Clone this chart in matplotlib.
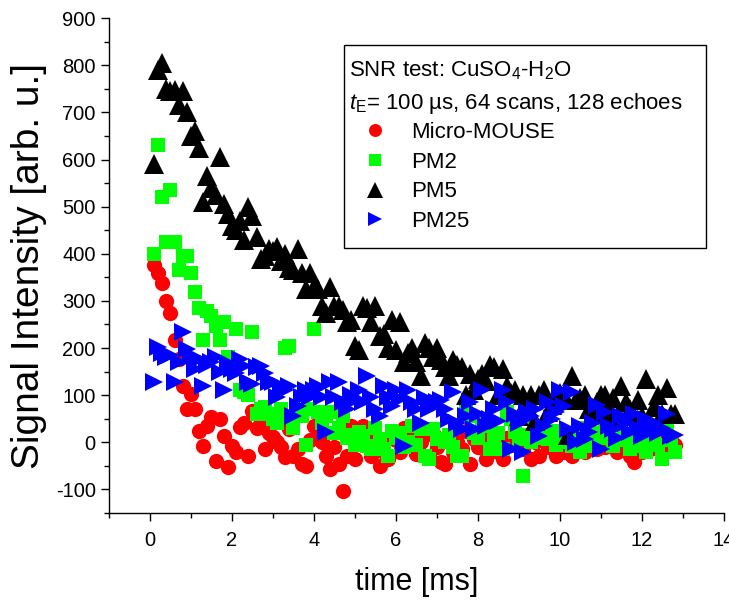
"""SNR test: CPMG echo trains of CuSO4-H2O measured with four sensors."""

import matplotlib
matplotlib.use("Agg")
import matplotlib.pyplot as plt
import numpy as np
from matplotlib.patches import Rectangle
from matplotlib.ticker import MultipleLocator

plt.rcParams["font.family"] = ["Liberation Sans", "DejaVu Sans"]
plt.rcParams["mathtext.fontset"] = "custom"
plt.rcParams["mathtext.rm"] = "Liberation Sans"
plt.rcParams["mathtext.it"] = "Liberation Sans:italic"
plt.rcParams["axes.unicode_minus"] = False

# echo times: tE = 100 us, 128 echoes
time_ms = 0.1 * np.arange(1, 129)

micro_mouse = [
    377, 360, 339, 300, 275, 218, 176, 119, 70, 102,
    70, 23, -8, 35, 53, -40, 49, 13, -53, -8,
    -21, 32, 40, -30, 66, 30, 45, -15, 20, 11,
    0, -10, -32, 28, -30, -15, -47, -51, 5, 34,
    13, 0, -30, -57, -10, -47, -104, -30, 34, -36,
    20, 34, 0, -30, 15, -51, -20, -36, 10, 5,
    -20, 30, -5, 10, -25, 0, 15, -30, 20, -10,
    -42, -47, 10, -20, 0, -15, 25, -47, 6, -10,
    15, -36, 0, 20, -20, -36, 10, -5, 20, 0,
    -15, 10, -36, 0, -30, 15, -10, 20, -30, 5,
    -20, 10, -30, -5, 15, -21, 10, 0, -15, 20,
    -10, 15, 0, -20, -5, 10, -30, -42, 5, -21,
    0, -15, 10, -8, 20, -10, 5, -5,
]

pm2 = [
    400, 630, 520, 425, 535, 425, 365, 395, 395, 360,
    318, 285, 218, 278, 267, 246, 218, 256, 182, 160,
    240, 112, 106, 100, 235, 60, 70, 75, 59, 50,
    40, 70, 200, 205, 30, 60, 55, -5, 70, 240,
    64, 40, 55, 64, 20, 30, 55, 10, 15, -5,
    21, 13, -8, -15, 30, 6, -15, -30, 25, 10,
    20, -10, 0, 35, -5, 28, -30, -36, 28, 6,
    6, 0, 15, -10, -30, -30, 76, 55, 20, 10,
    49, 34, -15, 5, 20, -15, 64, 49, 21, 6,
    -72, 15, 0, 30, 10, 21, 6, 25, -5, 21,
    0, 15, -8, 10, -21, 30, 0, -8, 20, 10,
    42, 13, -8, 25, 28, 5, -15, 15, 0, -8,
    -21, 10, 20, -5, -36, 34, 5, -20,
]

pm5 = [
    590, 790, 805, 750, 745, 748, 715, 745, 700, 650,
    660, 625, 510, 565, 540, 525, 605, 505, 485, 460,
    450, 470, 430, 500, 480, 435, 390, 395, 410, 405,
    415, 385, 400, 370, 365, 410, 360, 325, 360, 330,
    325, 290, 275, 330, 290, 290, 280, 255, 260, 205,
    195, 290, 285, 255, 290, 225, 230, 200, 260, 195,
    255, 170, 190, 200, 170, 140, 210, 200, 180, 200,
    175, 160, 140, 175, 165, 160, 100, 145, 110, 135,
    145, 130, 165, 160, 100, 155, 120, 105, 110, 55,
    100, 75, 100, 45, 100, 110, 65, 80, 90, 105,
    100, 15, 140, 90, 95, 100, 70, 60, 85, 100,
    100, 65, 95, 55, 120, 85, 70, 55, 90, 55,
    135, 40, 75, 100, 60, 115, 60, 60,
]

pm25 = [
    127, 203, 190, 182, 185, 127, 170, 233, 197, 182,
    155, 176, 119, 165, 170, 180, 150, 112, 169, 155,
    148, 176, 161, 127, 123, 160, 161, 148, 127, 127,
    97, 119, 112, 119, 55, 76, 97, 112, 97, 112,
    119, 97, 21, 127, 97, 127, 85, 70, 100, 90,
    110, 85, 140, 97, 70, 55, 119, 97, 76, 112,
    91, -8, 112, 85, 70, 42, 95, 70, 80, 85,
    90, 70, 49, 106, 42, 28, 55, 85, 28, 60,
    112, 34, 50, 70, 45, 112, 85, -15, 60, 40,
    -21, 64, 55, 70, 13, 34, 85, 49, 64, 112,
    76, 28, 106, 0, 34, 6, 21, 40, 80, -15,
    64, 34, 28, 10, 55, 42, 21, 60, 30, 13,
    50, 25, 40, 20, 30, 60, 13, 15,
]

fig = plt.figure(figsize=(7.29, 6.06), dpi=100)
ax = fig.add_axes([0.1495, 0.1535, 0.8436, 0.8165])

ax.plot(time_ms, micro_mouse, "o", color="#ff0000", ms=11, mew=0, label="Micro-MOUSE")
ax.plot(time_ms, pm2, "s", color="#00ff00", ms=9.5, mew=0, label="PM2")
ax.plot(time_ms, pm5, "^", color="black", ms=14, mew=0, label="PM5")
ax.plot(time_ms, pm25, ">", color="#0000ff", ms=12.5, mew=0, label="PM25")

ax.set_xlim(-1, 14)
ax.set_ylim(-150, 900)
ax.xaxis.set_major_locator(MultipleLocator(2))
ax.xaxis.set_minor_locator(MultipleLocator(1))
ax.yaxis.set_major_locator(MultipleLocator(100))
ax.yaxis.set_minor_locator(MultipleLocator(50))
ax.tick_params(which="major", direction="out", length=6, width=1.0, labelsize=14.5)
ax.tick_params(axis="x", which="major", pad=7)
ax.tick_params(which="minor", direction="out", length=3.5, width=1.0)
for side in ("top", "right"):
    ax.spines[side].set_visible(False)
for side in ("left", "bottom"):
    ax.spines[side].set_linewidth(1.0)

ax.set_xlabel("time [ms]", fontsize=22, labelpad=12)
ax.set_ylabel("Signal Intensity [arb. u.]", fontsize=28, labelpad=6)

# legend box with two header lines
ax.add_patch(Rectangle((0.382, 0.5354), 0.589, 0.4101, transform=ax.transAxes,
                       facecolor="white", edgecolor="black", linewidth=1.0, zorder=5))
ax.text(0.390, 0.8828, "SNR test: CuSO$_4$-H$_2$O", transform=ax.transAxes,
        fontsize=16, va="baseline", ha="left", zorder=6)
ax.text(0.390, 0.8162, "$t_\\mathrm{E}$= 100 µs, 64 scans, 128 echoes", transform=ax.transAxes,
        fontsize=16, va="baseline", ha="left", zorder=6)
leg = ax.legend(loc="upper left", bbox_to_anchor=(0.390, 0.79), frameon=False,
                fontsize=16, borderpad=0, borderaxespad=0, labelspacing=0.39,
                handlelength=2.34, handletextpad=0.45, markerscale=0.85)
leg.set_zorder(7)

fig.savefig("out.png", dpi=100)
